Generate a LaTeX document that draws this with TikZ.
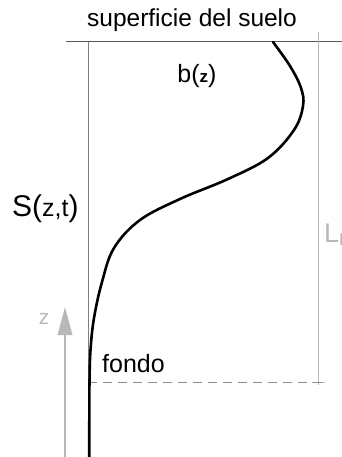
\documentclass[tikz,border=0pt]{standalone}
\usepackage{fontspec}
\setmainfont{Liberation Sans}
\usetikzlibrary{arrows.meta}
\definecolor{darkline}{gray}{0.35}
\definecolor{midline}{gray}{0.5}
\definecolor{lightline}{gray}{0.72}
\definecolor{dashline}{gray}{0.55}
\begin{document}
\begin{tikzpicture}[x=1pt,y=-1pt,
  txt/.style={inner sep=0pt,text=black},
  graytxt/.style={inner sep=0pt,text=lightline},
  thinline/.style={line width=1pt}]
\useasboundingbox (0,0) rectangle (342,457);
% frame lines
\draw[thinline,darkline] (66,42) -- (342,42);
\draw[thinline,midline] (88.3,42) -- (88.3,382);
\draw[thinline,lightline] (318.5,32) -- (318.5,385);
\draw[thinline,lightline] (312,382) -- (325,382);
\draw[thinline,dashline,dash pattern=on 9pt off 6pt] (88.3,382) -- (322,382);
% z axis arrow
\coordinate (zbot) at (65,460);
\coordinate (ztop) at (65,307);
\draw[line width=1.4pt,lightline,-{Triangle[width=14.6pt,length=28pt]}] (zbot) -- (ztop);
% profile curve
\draw[line width=2.6pt,black,line cap=round] plot[smooth,tension=0.6] coordinates {
 (273,42) (290,66) (301,88) (303,106) (294,130) (268,158) (228,179)
 (180,199) (140,220) (114,248) (102,282) (94,318) (90.5,350) (89.5,382) (89.3,420) (89.3,460)};
% labels
\node[txt,anchor=base] (sup) at (192,27) {\fontsize{24.5}{27}\selectfont superficie del suelo};
\node[txt,anchor=base] (bz) at (197,83) {\fontsize{25}{27}\selectfont b(\fontsize{17}{19}\selectfont\textbf{z}\fontsize{25}{27}\selectfont)};
\node[txt,anchor=base west] (szt) at (12,216) {\fontsize{30}{32}\selectfont S(\fontsize{25}{27}\selectfont z,t\fontsize{30}{32}\selectfont)};
\node[txt,anchor=base west] (fondo) at (102,372) {\fontsize{25}{27}\selectfont fondo};
\node[graytxt,anchor=base] (zlab) at (44,324) {\fontsize{21}{23}\selectfont z};
\node[graytxt,anchor=base west] (lr) at (324,242) {\fontsize{27}{29}\selectfont L\textsubscript{\fontsize{17}{19}\selectfont R}};
\end{tikzpicture}
\end{document}
